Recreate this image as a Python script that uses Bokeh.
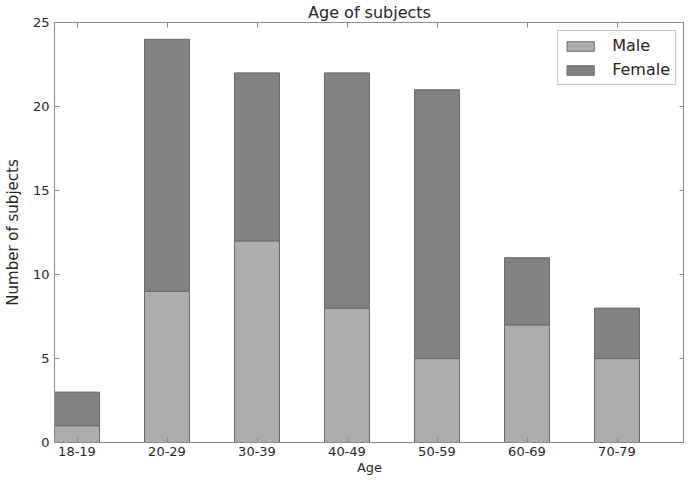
from bokeh.plotting import figure
from bokeh.models import (Range1d, FixedTicker, LinearAxis, Legend, LegendItem,
                          ColumnDataSource, CustomJSTickFormatter)
from bokeh.embed import file_html
from bokeh.resources import INLINE

age_groups = ["18-19", "20-29", "30-39", "40-49", "50-59", "60-69", "70-79"]
male = [1, 9, 12, 8, 5, 7, 5]
female = [2, 15, 10, 14, 16, 4, 3]
y_ticks = [0, 5, 10, 15, 20, 25]

xs = list(range(len(age_groups)))
total = [m + f for m, f in zip(male, female)]
src = ColumnDataSource(dict(x=xs, male=male, female=female, total=total, zero=[0] * len(xs)))

FONT = "DejaVu Sans"
AX = "#8a8a8a"
TXT = "#262626"
p = figure(frame_width=630, frame_height=420, output_backend="svg", toolbar_location=None,
           x_range=Range1d(-0.25, len(age_groups) - 0.25), y_range=Range1d(0, 25),
           min_border_left=0, min_border_right=0, min_border_top=0, min_border_bottom=0)

p.title.text = "Age of subjects"
p.title.align = "center"
p.title.text_font = FONT
p.title.text_font_size = "16px"
p.title.text_font_style = "normal"
p.title.text_color = TXT
p.title.offset = 0
p.title.standoff = 1

r_m = p.vbar(x="x", width=0.5, bottom="zero", top="male", source=src,
             fill_color="#adadad", line_color="#6a6a6a", line_width=1)
r_f = p.vbar(x="x", width=0.5, bottom="male", top="total", source=src,
             fill_color="#828282", line_color="#6a6a6a", line_width=1)

p.xgrid.visible = False
p.ygrid.visible = False
p.outline_line_color = AX
p.background_fill_color = "white"
p.border_fill_color = "white"

xax = p.xaxis[0]
xax.ticker = FixedTicker(ticks=xs)
xax.major_label_overrides = {i: lab for i, lab in enumerate(age_groups)}
xax.axis_label = "Age"
yax = p.yaxis[0]
yax.ticker = FixedTicker(ticks=y_ticks)
yax.axis_label = "Number of subjects"

for ax in (xax, yax):
    ax.major_tick_in = 5
    ax.major_tick_out = 0
    ax.minor_tick_line_color = None
    ax.axis_line_color = AX
    ax.major_tick_line_color = AX
    ax.major_label_text_font = FONT
    ax.major_label_text_font_size = "13px"
    ax.major_label_text_color = TXT
    ax.axis_label_text_font = FONT
    ax.axis_label_text_font_style = "normal"
    ax.axis_label_text_color = TXT
xax.axis_label_text_font_size = "13px"
yax.axis_label_text_font_size = "15px"
xax.major_label_standoff = 4
xax.axis_label_standoff = 1
yax.major_label_standoff = 5
yax.axis_label_standoff = 8

blank = CustomJSTickFormatter(code="return ''")
top_ax = LinearAxis(ticker=FixedTicker(ticks=xs), formatter=blank,
                    major_tick_in=5, major_tick_out=0, minor_tick_line_color=None,
                    axis_line_color=AX, major_tick_line_color=AX,
                    major_label_standoff=0)
right_ax = LinearAxis(ticker=FixedTicker(ticks=y_ticks), formatter=blank,
                      major_tick_in=5, major_tick_out=0, minor_tick_line_color=None,
                      axis_line_color=AX, major_tick_line_color=AX,
                      major_label_standoff=0)
p.add_layout(top_ax, "above")
p.add_layout(right_ax, "right")

legend = Legend(items=[LegendItem(label="Male", renderers=[r_m]),
                       LegendItem(label="Female", renderers=[r_f])],
                location="top_right", margin=8, padding=5, spacing=5,
                glyph_width=34, glyph_height=12,
                label_text_font=FONT, label_text_font_size="16px", label_text_color=TXT,
                label_standoff=15,
                border_line_color=AX, border_line_width=1,
                background_fill_color="white", background_fill_alpha=1.0)
p.add_layout(legend, "center")

open("out.html", "w").write(file_html(p, INLINE))
